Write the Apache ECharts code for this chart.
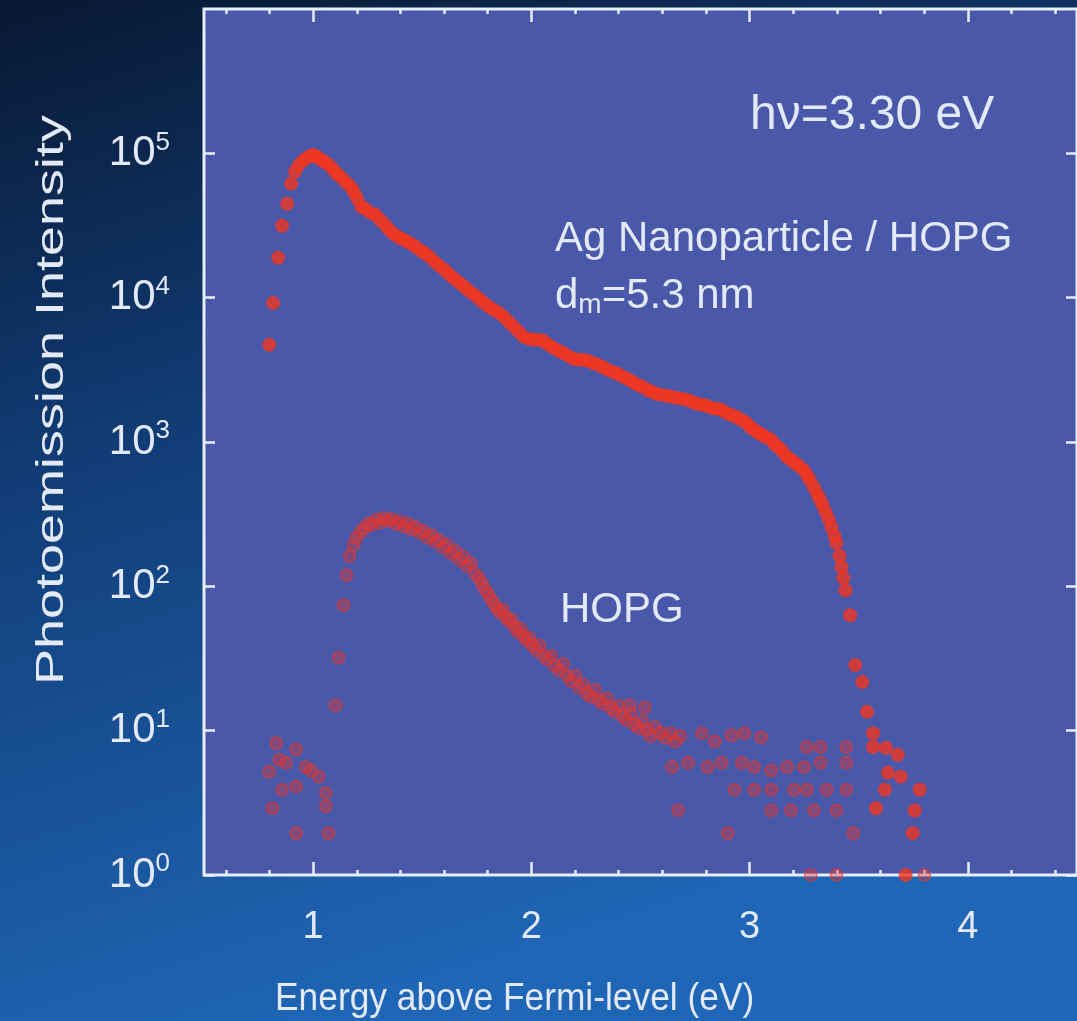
<!DOCTYPE html>
<html>
<head>
<meta charset="utf-8">
<script src="https://cdn.jsdelivr.net/npm/echarts@6/dist/echarts.min.js"></script>
<style>
  html, body { margin: 0; padding: 0; }
  #chart { width: 1077px; height: 1021px; }
</style>
</head>
<body>
<div id="chart"></div>
<script>
// Ag nanoparticle / HOPG spectrum (filled red dots)
var agEnergy = [0.799, 0.817, 0.840, 0.858, 0.881, 0.899, 0.917, 0.935, 0.958, 0.981,
  0.999, 1.017, 1.035, 1.053, 1.071, 1.090, 1.103, 1.121, 1.139, 1.158,
  1.176, 1.189, 1.203, 1.221, 1.239, 1.262, 1.285, 1.307, 1.330, 1.348,
  1.366, 1.389, 1.407, 1.425, 1.448, 1.470, 1.493, 1.511, 1.534, 1.557,
  1.579, 1.602, 1.625, 1.647, 1.670, 1.693, 1.715, 1.738, 1.761, 1.783,
  1.806, 1.829, 1.851, 1.874, 1.897, 1.919, 1.942, 1.965, 1.987, 2.010,
  2.033, 2.056, 2.078, 2.101, 2.124, 2.146, 2.169, 2.192, 2.214, 2.237,
  2.260, 2.282, 2.305, 2.328, 2.350, 2.373, 2.396, 2.418, 2.441, 2.464,
  2.486, 2.509, 2.532, 2.554, 2.577, 2.600, 2.622, 2.645, 2.668, 2.690,
  2.713, 2.736, 2.758, 2.781, 2.804, 2.826, 2.849, 2.872, 2.894, 2.917,
  2.940, 2.963, 2.985, 3.003, 3.022, 3.040, 3.058, 3.076, 3.099, 3.117,
  3.135, 3.153, 3.171, 3.190, 3.208, 3.226, 3.248, 3.262, 3.276, 3.294,
  3.307, 3.321, 3.334, 3.348, 3.362, 3.375, 3.389, 3.398, 3.412, 3.421,
  3.430, 3.439, 3.461, 3.484, 3.516, 3.538, 3.566, 3.566, 3.625, 3.679,
  3.634, 3.693, 3.620, 3.779, 3.579, 3.756, 3.747, 3.715];
var agIntensity = [4710, 9200, 18900, 31500, 44700, 61500, 74500, 83200, 90100, 94600,
  97700, 94600, 90100, 87300, 83200, 78100, 73300, 69800, 65500, 61500,
  57700, 53200, 48400, 42600, 41200, 38700, 37500, 34600, 32000, 29500,
  27700, 26400, 25500, 24800, 23600, 22500, 21100, 20400, 19200, 17700,
  16600, 15600, 14400, 13500, 12700, 11900, 11100, 10500, 9800, 9200,
  8630, 8230, 7850, 7360, 6790, 6280, 5800, 5350, 5180, 5100,
  5100, 5020, 4710, 4490, 4280, 4140, 3950, 3770, 3710, 3710,
  3650, 3530, 3420, 3310, 3160, 3060, 2970, 2830, 2740, 2610,
  2490, 2410, 2300, 2220, 2150, 2120, 2090, 2050, 2020, 1990,
  1960, 1900, 1840, 1810, 1780, 1720, 1700, 1670, 1590, 1540,
  1490, 1420, 1360, 1270, 1210, 1160, 1120, 1080, 1035, 955,
  910, 853, 788, 752, 716, 682, 641, 592, 546, 489,
  444, 404, 366, 328, 293, 258, 224, 200, 163, 136,
  114, 94, 63, 28.5, 21.7, 13.5, 9.6, 7.7, 7.6, 6.8,
  5.1, 4.8, 3.9, 3.9, 2.9, 2.8, 1.95, 1];

// bare HOPG spectrum (open red circles)
var hopgEnergy = [0.799, 0.813, 0.831, 0.845, 0.858, 0.876, 0.922, 0.922, 0.922, 0.967,
  0.990, 1.026, 1.058, 1.058, 1.071,
  1.103, 1.117, 1.139, 1.153, 1.167, 1.185, 1.198, 1.217, 1.235, 1.253,
  1.271, 1.289, 1.307, 1.325, 1.343, 1.362, 1.380, 1.398, 1.416, 1.434,
  1.452, 1.470, 1.489, 1.507, 1.525, 1.543, 1.561, 1.579, 1.597, 1.616,
  1.634, 1.652, 1.670, 1.688, 1.706, 1.724, 1.743, 1.761, 1.774, 1.788,
  1.802, 1.815, 1.829, 1.842, 1.856, 1.870, 1.883, 1.897, 1.910, 1.924,
  1.938, 1.951, 1.965, 1.978, 1.992, 2.006, 2.024, 2.037, 2.056, 2.074,
  2.092, 2.110, 2.128, 2.146, 2.164, 2.182, 2.201, 2.219, 2.237, 2.255,
  2.273, 2.291, 2.309, 2.328, 2.346, 2.364, 2.382, 2.400, 2.418, 2.436,
  2.455, 2.473, 2.491, 2.509, 2.527, 2.545, 2.568, 2.591, 2.613, 2.636,
  2.659, 2.681, 2.450, 2.520,
  2.645, 2.672, 2.718, 2.781, 2.808, 2.840, 2.872, 2.899, 2.917, 2.931,
  2.963, 2.976, 3.021, 3.021, 3.053, 3.099, 3.099, 3.099, 3.171, 3.189,
  3.203, 3.248, 3.262, 3.262, 3.280, 3.294, 3.325, 3.325, 3.353, 3.398,
  3.398, 3.443, 3.443, 3.443, 3.475, 3.801];
var hopgIntensity = [5.2, 2.9, 8.2, 6.3, 3.9, 6.0, 7.4, 4.1, 1.95, 5.6,
  5.3, 4.8, 3.7, 3.0, 1.95,
  15, 32, 74, 120, 162, 193, 217, 237, 254, 272,
  266, 290, 276, 297, 284, 293, 270, 284, 259, 272,
  248, 259, 235, 242, 216, 227, 203, 210, 185, 194,
  168, 176, 152, 160, 138, 145, 122, 114, 104, 95,
  89, 81, 76, 70, 66, 69, 61, 57, 59, 52,
  48, 51, 45, 42, 44, 39, 36, 39, 33, 31,
  33, 28, 26, 29, 24, 22, 24, 19.8, 21, 18.2,
  17.1, 19.2, 16.3, 15.3, 16.8, 14.4, 13.5, 14.9, 12.6, 11.8,
  13.2, 11.1, 10.4, 11.6, 10.1, 9.2, 10.6, 9.6, 8.9, 9.6,
  8.4, 9.2, 15, 14.5,
  5.6, 2.8, 6.0, 9.6, 5.6, 8.4, 6.0, 1.95, 9.3, 3.9,
  6.0, 9.6, 5.6, 3.9, 9.0, 5.3, 3.9, 2.8, 5.6, 2.8,
  3.9, 5.6, 7.7, 3.9, 1, 2.8, 7.7, 6.0, 3.9, 2.8,
  1, 7.7, 6.0, 3.9, 1.95, 1];

// axis ticks
var xMajorTicks = [1, 2, 3, 4];
var xMinorTicks = [0.6, 0.8, 1.2, 1.4, 1.6, 1.8, 2.2, 2.4, 2.6, 2.8,
  3.2, 3.4, 3.6, 3.8, 4.2, 4.4];
var yTicks = [1, 10, 100, 1000, 10000, 100000];

var FONT = '"Liberation Sans", Arial, Helvetica, sans-serif';
var TXT = '#e3e9f6';
var FRAME = '#e8eef8';

function zip(xs, ys) {
  return xs.map(function (x, i) { return [x, ys[i]]; });
}

var chart = echarts.init(document.getElementById('chart'), null, { renderer: 'canvas' });

function xAxisOf(position, ticks, len, withLabels) {
  return {
    type: 'value',
    position: position,
    min: 0.5,
    max: 4.5,
    axisLine: { show: false },
    splitLine: { show: false },
    axisTick: {
      show: true, inside: true, length: len, customValues: ticks,
      lineStyle: { color: FRAME, width: 2.5 }
    },
    axisLabel: {
      show: withLabels, customValues: xMajorTicks, margin: 34,
      color: TXT, fontSize: 38, fontFamily: FONT
    }
  };
}

function yAxisOf(position, withLabels) {
  return {
    type: 'log',
    logBase: 10,
    position: position,
    min: 1,
    max: 1000000,
    axisLine: { show: false },
    splitLine: { show: false },
    minorTick: { show: false },
    axisTick: {
      show: true, inside: true, length: 11, customValues: yTicks,
      lineStyle: { color: FRAME, width: 2.5 }
    },
    axisLabel: {
      show: withLabels,
      customValues: yTicks,
      margin: 34,
      formatter: function (v) {
        var e = Math.round(Math.log10(v));
        return '{b|10}{s|' + e + '}';
      },
      rich: {
        b: { fontSize: 42, lineHeight: 48, fontFamily: FONT, color: TXT },
        s: { fontSize: 26, lineHeight: 26, fontFamily: FONT, color: TXT, verticalAlign: 'top' }
      }
    }
  };
}

var option = {
  animation: false,
  backgroundColor: new echarts.graphic.LinearGradient(0, 0, 0.3, 1, [
    { offset: 0, color: '#081832' },
    { offset: 0.45, color: '#113e78' },
    { offset: 1, color: '#1f66b6' }
  ]),
  grid: {
    left: 204,
    right: -9,
    top: 9,
    bottom: 146,
    show: true,
    backgroundColor: '#4958a8',
    borderColor: FRAME,
    borderWidth: 3
  },
  xAxis: [
    xAxisOf('bottom', xMajorTicks, 13, true),
    xAxisOf('bottom', xMinorTicks, 5, false),
    xAxisOf('top', xMajorTicks, 13, false),
    xAxisOf('top', xMinorTicks, 5, false)
  ],
  yAxis: [
    yAxisOf('left', true),
    yAxisOf('right', false)
  ],
  graphic: [
    {
      type: 'text', x: 275, y: 1000, scaleX: 0.93,
      style: {
        text: 'Energy above Fermi-level (eV)', fill: TXT,
        font: '38px ' + FONT, align: 'left', verticalAlign: 'middle'
      }
    },
    {
      type: 'text', x: 53, y: 400, rotation: Math.PI / 2, scaleX: 1.42,
      style: {
        text: 'Photoemission Intensity', fill: TXT,
        font: '38px ' + FONT, align: 'center', verticalAlign: 'middle'
      }
    },
    {
      type: 'text', x: 750, y: 116,
      style: {
        text: 'h\u03bd=3.30 eV', fill: TXT,
        font: '48px ' + FONT, align: 'left', verticalAlign: 'middle'
      }
    },
    {
      type: 'text', x: 555, y: 239,
      style: {
        text: 'Ag Nanoparticle / HOPG', fill: TXT,
        font: '42px ' + FONT, align: 'left', verticalAlign: 'middle'
      }
    },
    {
      type: 'text', x: 555, y: 296,
      style: {
        text: '{a|d}{m|m}{a|=5.3 nm}', align: 'left', verticalAlign: 'middle',
        rich: {
          a: { fontSize: 42, lineHeight: 46, fontFamily: FONT, fill: TXT, color: TXT },
          m: { fontSize: 28, lineHeight: 46, fontFamily: FONT, fill: TXT, color: TXT,
               verticalAlign: 'bottom', padding: [10, 0, 0, 0] }
        }
      }
    },
    {
      type: 'text', x: 560, y: 610,
      style: {
        text: 'HOPG', fill: TXT,
        font: '42px ' + FONT, align: 'left', verticalAlign: 'middle'
      }
    }
  ],
  series: [
    {
      name: 'HOPG',
      type: 'scatter',
      xAxisIndex: 0,
      yAxisIndex: 0,
      symbol: 'circle',
      symbolSize: 12,
      data: zip(hopgEnergy, hopgIntensity),
      itemStyle: {
        color: 'rgba(222, 52, 50, 0.5)',
        borderColor: 'rgba(234, 54, 38, 0.8)',
        borderWidth: 1.5
      }
    },
    {
      name: 'Ag Nanoparticle / HOPG',
      type: 'scatter',
      xAxisIndex: 0,
      yAxisIndex: 0,
      symbol: 'circle',
      symbolSize: 14,
      data: zip(agEnergy, agIntensity),
      itemStyle: { color: '#f0361f' }
    }
  ]
};

chart.setOption(option);

window.addEventListener('resize', function () {
  chart.resize();
});
</script>
</body>
</html>
